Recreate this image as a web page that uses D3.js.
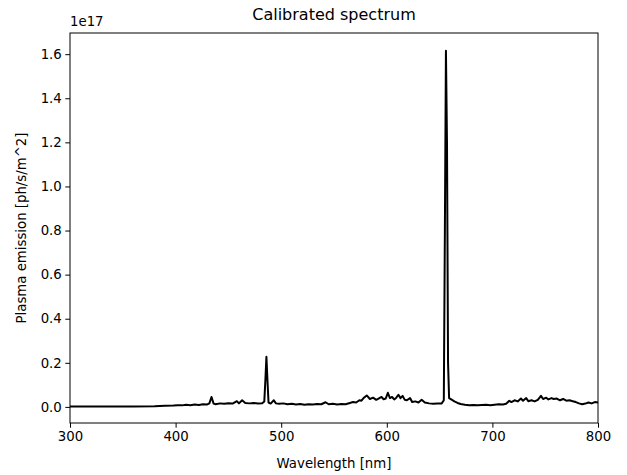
<!DOCTYPE html>
<html><head><meta charset="utf-8">
<script src="https://cdn.jsdelivr.net/npm/d3@7"></script>
<style>body{margin:0;background:#fff}svg{display:block}text{font-family:"DejaVu Sans",sans-serif;fill:#000}</style>
</head><body><svg id="c" width="627" height="475"></svg>
<script>
// wavelength [nm]
const wavelength = [300,320,340,360,380,390,398,402,406,410,414,418,422,426,430,432,434,436,438,442,446,450,454,458,460,463,466,470,474,478,482,484,485,486,487,488,490,493,495,498,502,506,510,514,518,522,526,530,534,538,542,545,549,553,557,561,565,568,571,574,576,578,581,584,587,590,593,595,597,599,601,603,605,607,609,611,613,615,617,619,622,624,627,630,633,636,640,644,648,652,654,655,656,657,658,659,661,664,667,670,674,678,682,686,690,694,698,702,706,710,713,716,718,721,724,727,729,732,734,737,740,743,746,748,751,753,756,758,761,764,767,770,773,776,779,782,785,788,791,794,797,800];
// emission [1e17 ph/s/m^2]
const emission = [0.002,0.002,0.002,0.002,0.003,0.005,0.006,0.008,0.007,0.010,0.008,0.011,0.009,0.012,0.011,0.016,0.045,0.015,0.012,0.016,0.014,0.017,0.015,0.026,0.016,0.030,0.018,0.016,0.018,0.015,0.017,0.025,0.12,0.227,0.12,0.02,0.015,0.030,0.016,0.014,0.016,0.012,0.014,0.011,0.013,0.010,0.012,0.011,0.013,0.012,0.021,0.012,0.014,0.011,0.013,0.012,0.018,0.022,0.020,0.030,0.028,0.040,0.052,0.036,0.042,0.032,0.040,0.045,0.035,0.038,0.064,0.040,0.045,0.034,0.042,0.055,0.040,0.050,0.032,0.030,0.040,0.022,0.025,0.020,0.032,0.020,0.016,0.014,0.015,0.016,0.030,0.8,1.616,1.2,0.2,0.04,0.034,0.025,0.018,0.013,0.010,0.008,0.009,0.008,0.009,0.010,0.008,0.010,0.012,0.011,0.014,0.028,0.022,0.030,0.025,0.038,0.028,0.040,0.026,0.030,0.025,0.032,0.050,0.036,0.042,0.034,0.040,0.036,0.038,0.030,0.036,0.028,0.030,0.026,0.022,0.016,0.012,0.015,0.020,0.016,0.022,0.020];
const xTicks = [300,400,500,600,700,800];
const yTicks = [0.0,0.2,0.4,0.6,0.8,1.0,1.2,1.4,1.6];

const L=70,R=598,T=33,B=423;
const svg=d3.select("#c");
const x=d3.scaleLinear().domain([300,800]).range([L,R]);
const y=d3.scaleLinear().domain([-0.073,1.696]).range([B,T]);

const data=wavelength.map((w,i)=>[w,emission[i]]);
svg.append("path").datum(data)
  .attr("fill","none").attr("stroke","#000").attr("stroke-width",2).attr("stroke-linejoin","round")
  .attr("d",d3.line().x(d=>x(d[0])).y(d=>y(d[1])));

const xa=svg.append("g").attr("transform",`translate(0,${B})`)
  .call(d3.axisBottom(x).tickValues(xTicks).tickFormat(d3.format("d")).tickSizeInner(4.7).tickSizeOuter(0).tickPadding(3.5));
const ya=svg.append("g").attr("transform",`translate(${L},0)`)
  .call(d3.axisLeft(y).tickValues(yTicks).tickFormat(d3.format(".1f")).tickSizeInner(4.7).tickSizeOuter(0).tickPadding(3.5));
[xa,ya].forEach(a=>{a.select(".domain").remove();a.selectAll("text").style("font-size","13.3px").style("font-family","DejaVu Sans");a.selectAll("line").attr("stroke","#000").attr("stroke-width",1);});

svg.append("rect").attr("x",L).attr("y",T).attr("width",R-L).attr("height",B-T)
  .attr("fill","none").attr("stroke","#000").attr("stroke-width",1);

svg.append("text").attr("x",(L+R)/2).attr("y",20).attr("text-anchor","middle").style("font-size","16px").text("Calibrated spectrum");
svg.append("text").attr("x",L).attr("y",26).style("font-size","13.3px").text("1e17");
svg.append("text").attr("x",(L+R)/2).attr("y",468).attr("text-anchor","middle").style("font-size","13.3px").text("Wavelength [nm]");
svg.append("text").attr("transform",`translate(26,${(T+B)/2}) rotate(-90)`).attr("text-anchor","middle").style("font-size","13.3px").text("Plasma emission [ph/s/m^2]");
</script></body></html>
